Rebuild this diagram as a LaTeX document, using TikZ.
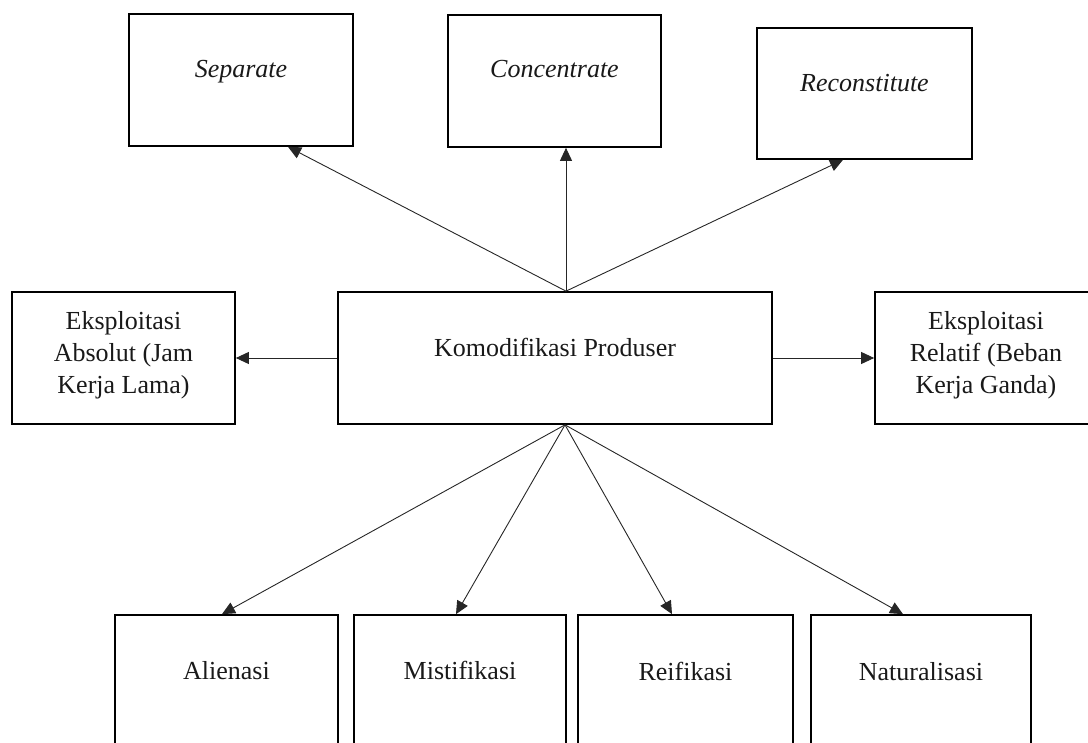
\documentclass[tikz,border=0pt]{standalone}
\usepackage{fontspec}
\setmainfont{Liberation Serif}
\usetikzlibrary{arrows.meta}
\tikzset{
  box/.style={draw=black, line width=1.7pt, rectangle, inner sep=0pt},
  lbl/.style={inner sep=0pt, font=\fontsize{26}{32}\selectfont, text=black!90},
  lbl3/.style={lbl, align=center},
  conn/.style={draw=black!85, line width=0.9pt, -{Triangle[length=13pt,width=12pt]}}
}
\begin{document}
\begin{tikzpicture}[x=1pt,y=-1pt]
\useasboundingbox (0,0) rectangle (1088,743);
% top boxes
\node[box, minimum width=224pt, minimum height=132pt] (sep) at (241,80) {};
\node[box, minimum width=213pt, minimum height=132pt] (con) at (554.5,81) {};
\node[box, minimum width=215pt, minimum height=131pt] (rec) at (864.5,93.5) {};
\node[lbl, anchor=base] (sept) at (241,78) {\textit{Separate}};
\node[lbl, anchor=base] (cont) at (554.5,78) {\textit{Concentrate}};
\node[lbl, anchor=base] (rect) at (864.5,92) {\textit{Reconstitute}};
% middle row
\node[box, minimum width=223pt, minimum height=132pt] (abs) at (123.5,358) {};
\node[box, minimum width=434pt, minimum height=132pt] (kom) at (555,358) {};
\node[box, minimum width=222pt, minimum height=132pt] (rel) at (986,358) {};
\node[lbl3] (abst) at (123.5,355) {Eksploitasi\\Absolut (Jam\\Kerja Lama)};
\node[lbl, anchor=base] (komt) at (555,357) {Komodifikasi Produser};
\node[lbl3] (relt) at (986,355) {Eksploitasi\\Relatif (Beban\\Kerja Ganda)};
% bottom row
\node[box, minimum width=223pt, minimum height=150pt] (ali) at (226.5,690) {};
\node[box, minimum width=212pt, minimum height=150pt] (mis) at (460,690) {};
\node[box, minimum width=215pt, minimum height=150pt] (rei) at (685.5,690) {};
\node[box, minimum width=220pt, minimum height=150pt] (nat) at (921,690) {};
\node[lbl, anchor=base] (alit) at (226.5,679) {Alienasi};
\node[lbl, anchor=base] (mist) at (460,679) {Mistifikasi};
\node[lbl, anchor=base] (reit) at (685.5,680) {Reifikasi};
\node[lbl, anchor=base] (natt) at (921,680) {Naturalisasi};
% connectors
\draw[conn] ([xshift=11pt]kom.north) -- ([xshift=47pt]sep.south);
\draw[conn] ([xshift=11pt]kom.north) -- ([xshift=11.5pt]con.south);
\draw[conn] ([xshift=11pt]kom.north) -- ([xshift=-21.5pt]rec.south);
\draw[conn] (kom.west) -- (abs.east);
\draw[conn] (kom.east) -- (rel.west);
\draw[conn] ([xshift=10pt]kom.south) -- ([xshift=-4.5pt]ali.north);
\draw[conn] ([xshift=10pt]kom.south) -- ([xshift=-4pt]mis.north);
\draw[conn] ([xshift=10pt]kom.south) -- ([xshift=-13.5pt]rei.north);
\draw[conn] ([xshift=10pt]kom.south) -- ([xshift=-18pt]nat.north);
\end{tikzpicture}
\end{document}
